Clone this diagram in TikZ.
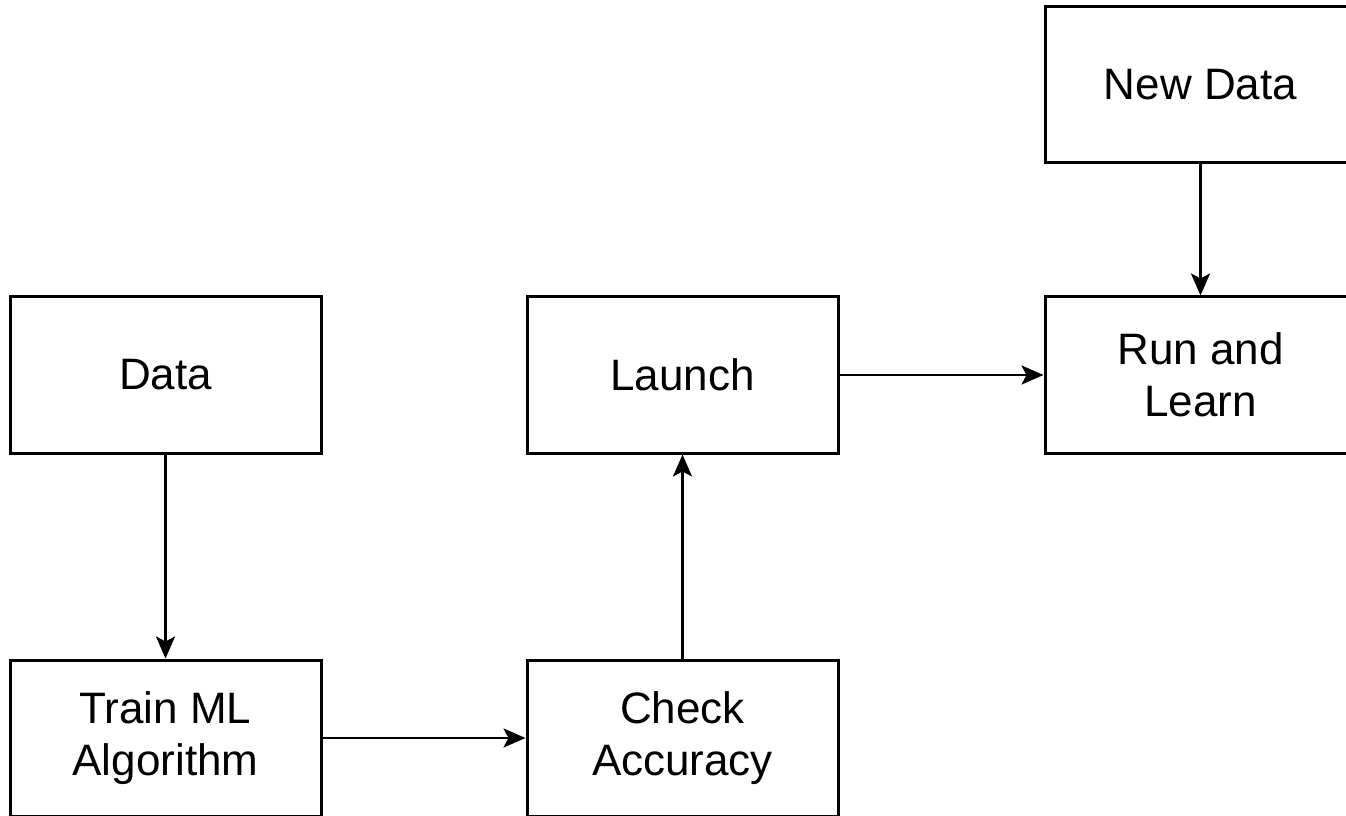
\documentclass[tikz,border=0pt]{standalone}
\usepackage{fontspec}
\setmainfont{Liberation Sans}
\usetikzlibrary{arrows.meta}
\begin{document}
\begin{tikzpicture}[x=1pt,y=1pt,
  stepbox/.style={draw=black, line width=3pt, fill=white,
    minimum width=311pt, minimum height=156pt, inner sep=0pt,
    align=center, font=\fontsize{44}{52}\selectfont},
  flow/.style={draw=black, line width=2.8pt,
    -{Stealth[length=22pt, width=19pt, inset=5pt]}}]
  \useasboundingbox (0,0) rectangle (1346,815);
  \clip (0,0) rectangle (1346,815);
  \fill[white] (0,0) rectangle (1346,815);

  % process steps
  \node[stepbox] (data)   at (165.5,440) {Data};
  \node[stepbox] (train)  at (165.5,77)  {Train ML\\Algorithm};
  \node[stepbox] (check)  at (682.5,77)  {Check\\Accuracy};
  \node[stepbox] (launch) at (682.5,440) {Launch};
  \node[stepbox] (run)    at (1200.5,440) {Run and\\Learn};
  \node[stepbox] (new)    at (1200.5,730) {New Data};

  % flow between steps
  \draw[flow] (data) -- (train);
  \draw[flow] (train) -- (check);
  \draw[flow] (check) -- (launch);
  \draw[flow] (launch) -- (run);
  \draw[flow] (new) -- (run);
\end{tikzpicture}
\end{document}
